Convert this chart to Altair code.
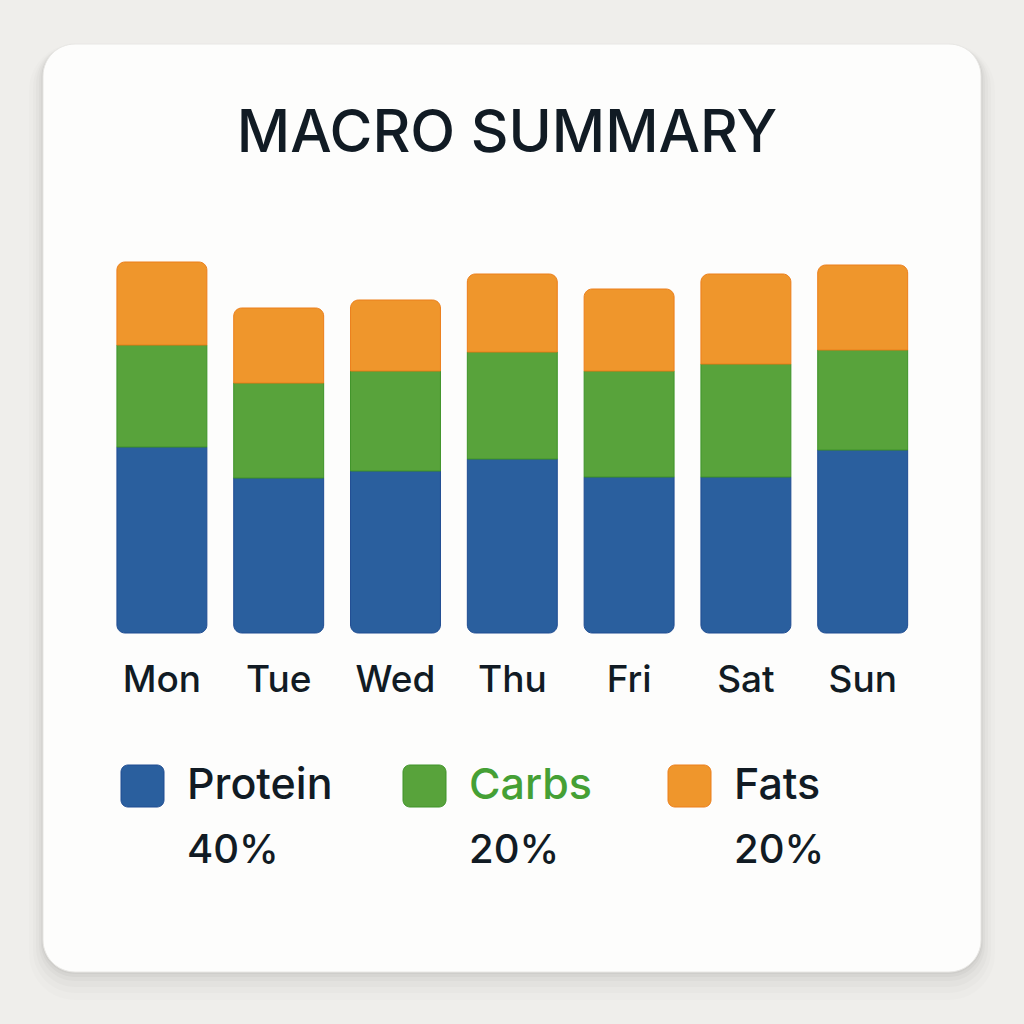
import altair as alt
import pandas as pd

# ---- data ----
days = ["Mon", "Tue", "Wed", "Thu", "Fri", "Sat", "Sun"]
macros = ["Protein", "Carbs", "Fats"]
protein = [186, 155, 162, 174, 156, 156, 183]
carbs = [102, 95, 100, 107, 106, 113, 100]
fats = [83, 75, 71, 78, 82, 90, 85]
percents = ["40%", "20%", "20%"]
title_text = "MACRO SUMMARY"

# ---- styles / layout ----
FONT = "Inter"
TEXT_DARK = "#111b24"
fill_colors = {"Protein": "#2a5f9e", "Carbs": "#58a33b", "Fats": "#ef962c"}
edge_colors = {"Protein": "#1f4c92", "Carbs": "#3e9328", "Fats": "#ec7e1a"}
label_colors = {"Protein": TEXT_DARK, "Carbs": "#45a035", "Fats": TEXT_DARK}
legend_left = [121, 403, 668]

rows = []
series = {"Protein": protein, "Carbs": carbs, "Fats": fats}
for mi, m in enumerate(macros):
    for d, v in zip(days, series[m]):
        rows.append({"day": d, "macro": m, "grams": v, "order": mi})
df = pd.DataFrame(rows)
one = pd.DataFrame({"k": [0]})

xscale = alt.Scale(domain=days, range=[103.5, 921.1], paddingInner=0.23, paddingOuter=0.115)
yscale = alt.Scale(domain=[0, 400], range=[633, 233])

layers = []

# card shadow + card
for off, grow, op in [(14, 14, 0.012), (11, 10, 0.016), (8, 7, 0.02), (5, 4, 0.025), (3, 2, 0.03), (1, 1, 0.035)]:
    layers.append(
        alt.Chart(one).mark_rect(cornerRadius=32 + grow, fill="#000000", opacity=op).encode(
            x=alt.value(43 - grow), x2=alt.value(981 + grow),
            y=alt.value(44 - grow + off), y2=alt.value(972 + grow + off))
    )
layers.append(
    alt.Chart(one).mark_rect(cornerRadius=32, fill="#fdfdfc", stroke="#e8e7e4", strokeWidth=1).encode(
        x=alt.value(43), x2=alt.value(981), y=alt.value(44), y2=alt.value(972))
)

# title
layers.append(
    alt.Chart(pd.DataFrame({"t": [title_text]})).mark_text(
        font=FONT, fontSize=58.5, fontWeight=500, color=TEXT_DARK, align="center", baseline="middle"
    ).encode(x=alt.value(507), y=alt.value(134), text="t:N")
)

# stacked bars
base = alt.Chart(df).transform_stack(
    stack="grams", groupby=["day"], as_=["g0", "g1"], sort=[alt.SortField("order", "ascending")]
)
for m in macros:
    kw = {}
    if m == "Protein":
        kw = dict(cornerRadiusBottomLeft=8, cornerRadiusBottomRight=8)
    elif m == "Fats":
        kw = dict(cornerRadiusTopLeft=8, cornerRadiusTopRight=8)
    layers.append(
        base.transform_filter(alt.datum.macro == m).mark_bar(
            fill=fill_colors[m], stroke=edge_colors[m], strokeWidth=1, **kw
        ).encode(
            x=alt.X("day:N", scale=xscale, axis=None, sort=days),
            y=alt.Y("g0:Q", scale=yscale, axis=None),
            y2="g1:Q",
        )
    )

# day labels
layers.append(
    alt.Chart(pd.DataFrame({"day": days})).mark_text(
        font=FONT, fontSize=37, fontWeight=500, color=TEXT_DARK, align="center", baseline="middle"
    ).encode(x=alt.X("day:N", scale=xscale, axis=None, sort=days), y=alt.value(681), text="day:N")
)

# legend
for i, m in enumerate(macros):
    ld = pd.DataFrame({"macro": [m], "pct": [percents[i]]})
    x0 = legend_left[i]
    layers.append(
        alt.Chart(ld).mark_rect(cornerRadius=7, fill=fill_colors[m], stroke=edge_colors[m], strokeWidth=1).encode(
            x=alt.value(x0), x2=alt.value(x0 + 43), y=alt.value(765), y2=alt.value(807))
    )
    layers.append(
        alt.Chart(ld).mark_text(
            font=FONT, fontSize=43, fontWeight=500, color=label_colors[m], align="left", baseline="middle"
        ).encode(x=alt.value(x0 + 66), y=alt.value(786), text="macro:N")
    )
    layers.append(
        alt.Chart(ld).mark_text(
            font=FONT, fontSize=40, fontWeight=500, color=TEXT_DARK, align="left", baseline="middle"
        ).encode(x=alt.value(x0 + 66), y=alt.value(851), text="pct:N")
    )

chart = alt.layer(*layers).properties(
    width=1024, height=1024, background="#efeeeb", padding=0,
    autosize=alt.AutoSizeParams(type="none"),
).configure_view(stroke=None)

chart.save("out.html", embed_options={"renderer": "svg", "actions": False})
